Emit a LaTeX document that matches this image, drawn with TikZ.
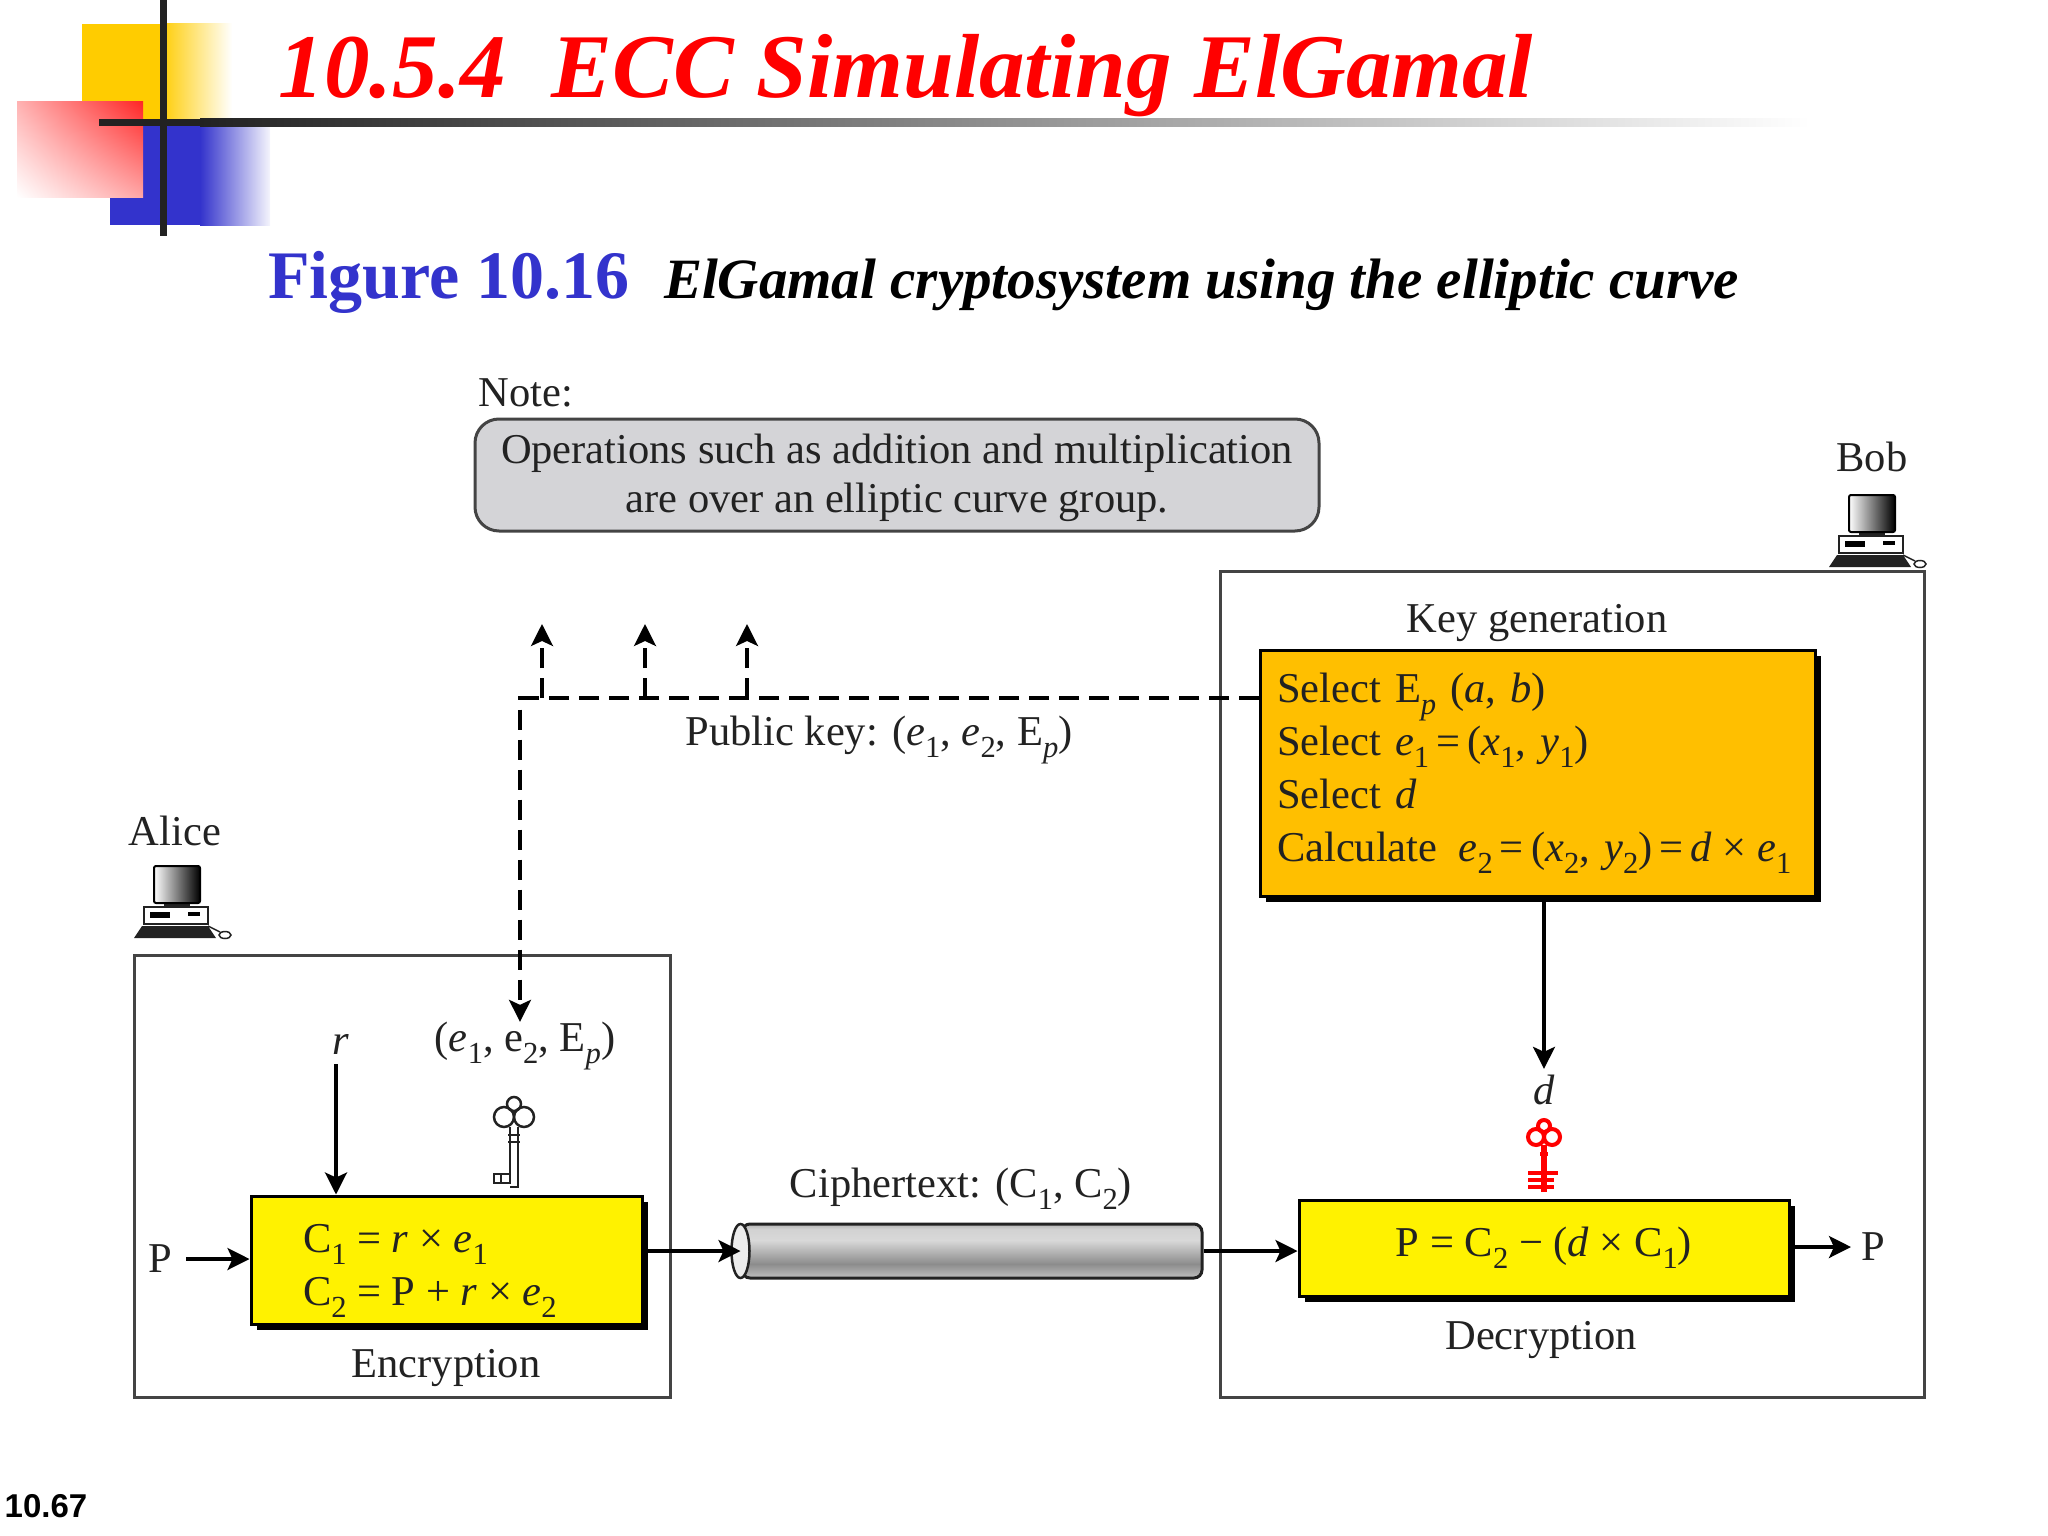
\documentclass[tikz,border=0pt]{standalone}
\usepackage{fontspec}
\usepackage{graphicx}
\setmainfont{Liberation Serif}
\newfontfamily\numfont{Liberation Sans}
\usetikzlibrary{positioning,arrows.meta,shadows,shadings}

\definecolor{logoyellow}{HTML}{FFCC00}
\definecolor{logoblue}{HTML}{3333CC}
\definecolor{boxorange}{HTML}{FFBF00}
\definecolor{notegray}{HTML}{D4D4D7}
\definecolor{ink}{HTML}{222222}
\definecolor{edge}{HTML}{444444}

\pgfdeclareverticalshading{pipeshade}{100bp}{color(0bp)=(gray!50); color(25bp)=(gray!50); color(38bp)=(gray!90); color(60bp)=(gray!30); color(70bp)=(gray!35); color(75bp)=(gray!60); color(100bp)=(gray!60)}

% subscripts in text, and letters of the formulas
\newcommand{\lowsub}[1]{\raisebox{-.28em}{\scalebox{.72}{#1}}}
\newcommand{\lowsubit}[1]{\lowsub{\textit{#1}}}
\newcommand{\vr}[1]{\textit{#1}}
\newcommand{\gap}{\hspace{.25em}}

\tikzset{
	pics/computericon/.style={code={
		\fill[ink] (0,72) -- (8,60) -- (74,60) -- (82,72) -- cycle;
		\draw[ink, line width=1.5pt, fill=white] (10,41) rectangle (74,58);
		\fill[black] (16,46) rectangle (36,52);
		\fill[black] (54,46) rectangle (66,50);
		\fill[ink] (30,37) rectangle (56,41);
		\shade[left color=white, right color=black, draw=black, line width=2pt, rounded corners=2pt] (20,0) rectangle (66,37);
		\draw[ink, line width=1.5pt] (74,60) -- (86,66);
		\draw[ink, line width=1.5pt] (91,69) ellipse (6 and 3.5);
	}},
	pics/keyicon/.style={code={
		\begin{scope}[draw=ink, line width=2.5pt]
			\draw (-10,0) circle (10);
			\draw (10,0) circle (10);
			\draw (0,-13) circle (7);
			\draw (-4,10) -- (-4,66) -- (-20,66) -- (-20,57) -- (-4,57);
			\draw (4,10) -- (4,70) -- (-4,70);
			\draw (-6,18) -- (6,18);
			\draw (-6,25) -- (6,25);
			\draw (-13,57) -- (-13,66);
		\end{scope}
	}},
	pics/redkeyicon/.style={code={
		\begin{scope}[draw=red, line width=4pt]
			\draw (-8,0) circle (8);
			\draw (8,0) circle (8);
			\draw (0,-11) circle (6);
			\draw[line width=6pt] (0,8) -- (0,55);
			\draw (-4,17) -- (4,17);
			\draw (-16,36) -- (14,36);
			\draw (-16,43) -- (10,43);
			\draw (-16,50) -- (10,50);
		\end{scope}
	}}
}

\begin{document}
\begin{tikzpicture}[
	x=1pt, y=-1pt,
	txt/.style = {text=ink, inner sep=0pt, font=\fontsize{42.5}{42.5}\selectfont},
	frame/.style = {draw=edge, line width=3pt, fill=white, minimum width=#1},
	calc box/.style = {draw=black, line width=3pt, inner sep=0pt, text=ink,
		font=\fontsize{42.5}{42.5}\selectfont,
		drop shadow={shadow xshift=6pt, shadow yshift=-6pt, fill=black, opacity=1},
		execute at begin node=\setlength{\baselineskip}{53pt}},
	flow/.style = {draw=black, line width=3.2pt, -{Stealth[length=22pt, width=22pt, inset=5pt]}},
	pub/.style = {flow, dash pattern=on 20pt off 10pt}]

	\useasboundingbox (0,0) rectangle (2048,1536);

	% slide decoration
	\fill[logoyellow] (82,24) rectangle (160,119);
	\shade[left color=logoyellow, right color=white] (160,24) rectangle (232,119);
	\fill[logoblue] (110,119) rectangle (200,225);
	\shade[left color=logoblue, middle color=logoblue!45!white, right color=logoblue!5!white] (200,119) rectangle (270,225);
	\shade[shading=bilinear interpolation, upper right=red!85!white, upper left=red!30!white, lower right=red!35!white, lower left=white] (17,102) rectangle (143,197);
	\fill[ink] (160,0) rectangle (167,236);
	\fill[ink] (99,119) rectangle (200,126.5);
	\shade[left color=ink, right color=white] (200,119) rectangle (1810,126.5);

	% slide headings
	\node[red, inner sep=0pt, font=\fontsize{91}{91}\selectfont\bfseries\itshape] (title) at (906,76) {10.5.4\ \ ECC Simulating ElGamal};
	\node[logoblue, inner sep=0pt, font=\fontsize{68}{68}\selectfont\bfseries] (figno) at (449,282) {Figure 10.16};
	\node[black, inner sep=0pt, font=\fontsize{57}{57}\selectfont\bfseries\itshape, right=34pt of figno, yshift=-3pt] (caption) {ElGamal cryptosystem using the elliptic curve};
	\node[black, inner sep=0pt, font=\fontsize{33}{33}\selectfont\bfseries\numfont] (pageno) at (46,1506) {10.67};

	% note on top
	\node[draw=edge, line width=3pt, fill=notegray, rounded corners=24pt, align=center, txt, minimum width=844pt, minimum height=112pt, text height=84pt,
		execute at begin node=\setlength{\baselineskip}{49pt}] (note) at (897,475)
		{Operations such as addition and multiplication\\are over an elliptic curve group.};
	\node[txt] (notehead) at (526,393) {Note:};

	% the two parties
	\node[frame=536pt, minimum height=442pt] (alicebox) at (402,1176) {};
	\node[frame=704pt, minimum height=826pt] (bobbox) at (1572,984) {};
	\node[txt] (alice) at (175,831) {Alice};
	\node[txt] (bob) at (1872,457) {Bob};
	\pic at (134,866) {computericon};
	\pic at (1829,495) {computericon};

	% Bob's boxes
	\node[txt] (keygen) at (1537,623) {Key generation};
	\node[calc box, fill=boxorange, minimum width=555pt, minimum height=246pt, align=left, text width=521pt] (keybox) at (1537.5,773)
		{Select E\lowsubit{p} (\vr{a}, \vr{b})\\
		Select \vr{e}\lowsub{1}\,=\,(\vr{x}\lowsub{1}, \vr{y}\lowsub{1})\\
		Select \vr{d}\\
		\mbox{Calculate\ \,\vr{e}\lowsub{2}\,=\,(\vr{x}\lowsub{2}, \vr{y}\lowsub{2})\,=\,\vr{d}\gap×\gap\vr{e}\lowsub{1}}};
	\node[calc box, fill=yellow, minimum width=490pt, minimum height=96pt] (decbox) at (1544,1248)
		{P = C\lowsub{2} − (\vr{d} × C\lowsub{1})};
	\node[txt] (dec) at (1541,1340) {Decryption};
	\node[txt] (dlabel) at (1544,1090) {\vr{d}};
	\node[txt] (pout) at (1873,1247) {P};
	\pic at (1544,1137) {redkeyicon};

	% Alice's box
	\node[calc box, fill=yellow, minimum width=391pt, minimum height=128pt, align=left, text width=287pt, text height=50pt] (encbox) at (446.5,1260)
		{C\lowsub{1}\gap=\gap\vr{r}\gap×\gap\vr{e}\lowsub{1}\\C\lowsub{2}\gap=\gap P\gap+\gap\vr{r}\gap×\gap\vr{e}\lowsub{2}};
	\node[txt] (enc) at (446,1368) {Encryption};
	\node[txt] (rlabel) at (341,1044) {\vr{r}};
	\node[txt] (pubin) at (525,1046) {(\vr{e}\lowsub{1}, e\lowsub{2}, E\lowsubit{p})};
	\node[txt] (pin) at (160,1259) {P};
	\pic at (514,1117) {keyicon};

	% ciphertext pipe
	\node[draw=ink, line width=3pt, shading=pipeshade, minimum width=460pt, minimum height=54pt, rounded corners=8pt] (pipe) at (972,1251) {};
	\draw[ink, line width=2.5pt, fill=gray!15] (pipe.west) ellipse (9 and 27);
	\node[txt] (cipher) at (961,1189) {Ciphertext: (C\lowsub{1}, C\lowsub{2})};

	% public key lines
	\node[txt] (pubkey) at (879,740) {Public key: (\vr{e}\lowsub{1}, \vr{e}\lowsub{2}, E\lowsubit{p})};
	\coordinate (corner) at (520,698);
	\draw[pub] (keybox.west |- corner) -- (corner) -- (pubin.north -| corner);
	\foreach \value/\xpos in {1/542,2/645,3/747} {
		\coordinate (out\value) at (\xpos,624);
		\draw[pub] (out\value |- corner) -- (out\value);
	}

	% remaining arrows
	\coordinate (rstart) at (336,1064);
	\draw[flow] (rstart) -- (rstart |- encbox.north);
	\draw[flow] (pin.east) ++(14,0) -- (encbox.west |- pin.east);
	\draw[flow] (encbox.east |- pipe.west) -- (pipe.west);
	\draw[flow] (pipe.east) -- (decbox.west |- pipe.east);
	\draw[flow, shorten >=10pt] (decbox.east |- pout.west) -- (pout.west);
	\draw[flow, shorten >=6pt] (keybox.south -| dlabel) -- (dlabel.north);
\end{tikzpicture}
\end{document}
